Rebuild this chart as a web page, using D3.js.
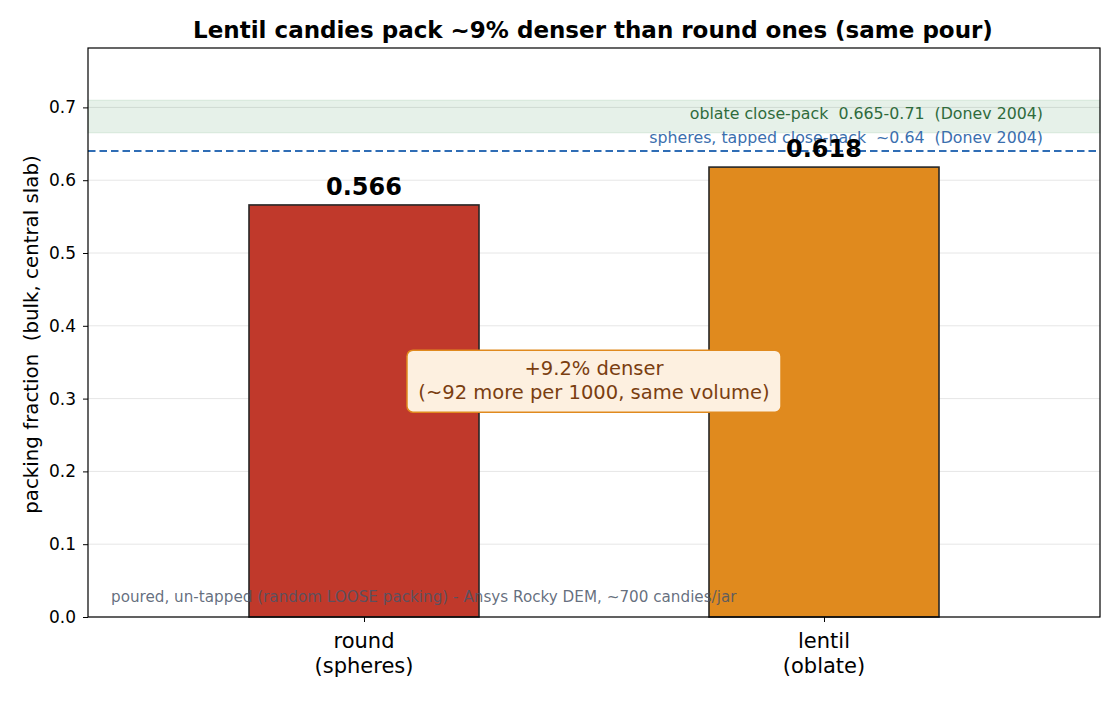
<!DOCTYPE html>
<html>
<head>
<meta charset="utf-8">
<script src="https://cdn.jsdelivr.net/npm/d3@7"></script>
<style>
  body { margin: 0; background: #fff; }
  text { font-family: "DejaVu Sans", sans-serif; white-space: pre; }
</style>
</head>
<body>
<svg id="chart" width="1118" height="702"></svg>
<script>
// data
const categories = ["round\n(spheres)", "lentil\n(oblate)"]
const packing = [0.566, 0.618]
const barColors = ["#c0392b", "#e08a1e"]
const yTicks = [0, 0.1, 0.2, 0.3, 0.4, 0.5, 0.6, 0.7]
const oblateBand = [0.665, 0.71]
const sphereTapped = 0.64
const noteY = 0.324

const svg = d3.select("#chart")
const plotL = 88, plotR = 1100, plotT = 48, plotB = 617

const x = d3.scaleLinear().domain([-0.6, 1.6]).range([plotL, plotR])
const y = d3.scaleLinear().domain([0, 0.7816]).range([plotB, plotT])
const barW = 0.5

// grid
svg.append("g").selectAll("line")
    .data(yTicks)
    .join("line")
    .attr("x1", plotL).attr("x2", plotR)
    .attr("y1", d => y(d)).attr("y2", d => y(d))
    .attr("stroke", "#e6e6e6").attr("stroke-width", 1)

// oblate band
svg.append("rect")
    .attr("x", plotL).attr("width", plotR - plotL)
    .attr("y", y(oblateBand[1])).attr("height", y(oblateBand[0]) - y(oblateBand[1]))
    .attr("fill", "#2e8b47").attr("fill-opacity", 0.12)
    .attr("stroke", "#2e8b47").attr("stroke-opacity", 0.12)

// tapped sphere line
svg.append("line")
    .attr("x1", plotL).attr("x2", plotR)
    .attr("y1", y(sphereTapped)).attr("y2", y(sphereTapped))
    .attr("stroke", "#2f6db5").attr("stroke-width", 2)
    .attr("stroke-dasharray", "7.5,4")

svg.append("text")
    .attr("x", 1043).attr("y", 119)
    .attr("text-anchor", "end").attr("font-size", 15.8)
    .attr("fill", "#2f6b3c")
    .text("oblate close-pack  0.665-0.71  (Donev 2004)")

svg.append("text")
    .attr("x", 1043).attr("y", 143)
    .attr("text-anchor", "end").attr("font-size", 15.8)
    .attr("fill", "#3b6fae")
    .text("spheres, tapped close-pack  ~0.64  (Donev 2004)")

// bars
svg.append("g").selectAll("rect")
    .data(packing)
    .join("rect")
    .attr("x", (d, i) => x(i - barW / 2))
    .attr("width", x(barW) - x(0))
    .attr("y", d => y(d))
    .attr("height", d => plotB - y(d))
    .attr("fill", (d, i) => barColors[i])
    .attr("stroke", "#262626").attr("stroke-width", 1.6)

// value labels
svg.append("g").selectAll("text")
    .data(packing)
    .join("text")
    .attr("x", (d, i) => x(i))
    .attr("y", d => y(d) - 10)
    .attr("text-anchor", "middle")
    .attr("font-size", 24).attr("font-weight", "bold")
    .attr("fill", "#000")
    .text(d => d.toFixed(3))

// footnote
svg.append("text")
    .attr("x", 111).attr("y", 602)
    .attr("font-size", 15.2).attr("fill", "#4a5568").attr("fill-opacity", 0.85)
    .text("poured, un-tapped (random LOOSE packing) - Ansys Rocky DEM, ~700 candies/jar")

// annotation box
const gain = (packing[1] / packing[0] - 1) * 100
const note = svg.append("g")
const nx = x(0.5), ny = y(noteY)
note.append("rect")
    .attr("x", nx - 187).attr("y", ny - 31)
    .attr("width", 374).attr("height", 62)
    .attr("rx", 6)
    .attr("fill", "#fdf0e0").attr("stroke", "#e08a1e").attr("stroke-width", 1.5)
note.append("text")
    .attr("x", nx).attr("y", ny - 6)
    .attr("text-anchor", "middle").attr("font-size", 19.5).attr("fill", "#7a3e10")
    .text(`+${gain.toFixed(1)}% denser`)
note.append("text")
    .attr("x", nx).attr("y", ny + 18)
    .attr("text-anchor", "middle").attr("font-size", 19.5).attr("fill", "#7a3e10")
    .text(`(~${Math.round(gain * 10)} more per 1000, same volume)`)

// axes
const yAxis = svg.append("g")
    .attr("transform", `translate(${plotL},0)`)
    .call(d3.axisLeft(y).tickValues(yTicks).tickFormat(d3.format(".1f")).tickSize(5).tickPadding(7))
yAxis.select(".domain").remove()
yAxis.selectAll("text").attr("font-size", 17).attr("fill", "#000").attr("font-family", "DejaVu Sans")
yAxis.selectAll("line").attr("stroke", "#000")

const xAxis = svg.append("g")
    .attr("transform", `translate(0,${plotB})`)
    .call(d3.axisBottom(x).tickValues([0, 1]).tickFormat("").tickSize(5))
xAxis.select(".domain").remove()
xAxis.selectAll("line").attr("stroke", "#000")

svg.append("g").selectAll("text")
    .data(categories)
    .join("text")
    .attr("x", (d, i) => x(i))
    .attr("y", 648)
    .attr("text-anchor", "middle")
    .attr("font-size", 21).attr("fill", "#000")
    .selectAll("tspan")
    .data(d => d.split("\n"))
    .join("tspan")
    .attr("x", function () { return this.parentNode.getAttribute("x") })
    .attr("dy", (d, i) => i === 0 ? 0 : 25)
    .text(d => d)

// frame
svg.append("rect")
    .attr("x", plotL).attr("y", plotT)
    .attr("width", plotR - plotL).attr("height", plotB - plotT)
    .attr("fill", "none").attr("stroke", "#000").attr("stroke-width", 1.2)

// titles
svg.append("text")
    .attr("x", (plotL + plotR) / 2 - 1).attr("y", 38)
    .attr("text-anchor", "middle")
    .attr("font-size", 23).attr("font-weight", "bold")
    .text("Lentil candies pack ~9% denser than round ones (same pour)")

svg.append("text")
    .attr("transform", `translate(38,${(plotT + plotB) / 2 + 2}) rotate(-90)`)
    .attr("text-anchor", "middle")
    .attr("font-size", 19.8)
    .text("packing fraction  (bulk, central slab)")
</script>
</body>
</html>
